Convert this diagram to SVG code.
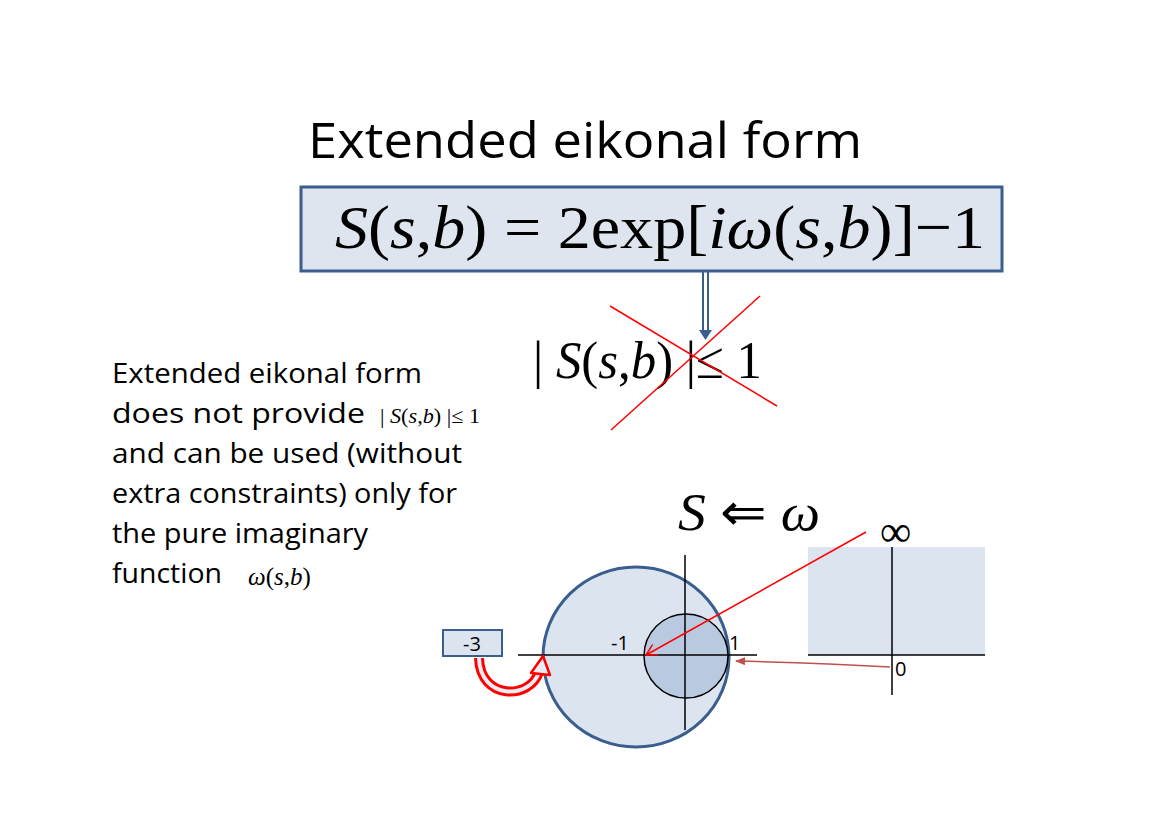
<svg xmlns="http://www.w3.org/2000/svg" width="1170" height="827" viewBox="0 0 1170 827">
<style>
.sans{font-family:"Open Sans","Liberation Sans",sans-serif;fill:#000}
.m{font-family:"Liberation Serif","Times New Roman",serif;fill:#000}
.ax{stroke:#000;stroke-width:1.5;fill:none}
.fill{fill:#dce4f0}
</style>
<defs>
<marker id="ar" markerWidth="12" markerHeight="12" refX="11" refY="6" orient="auto" markerUnits="userSpaceOnUse"><path d="M0,0 L11,6 L0,12" fill="none" stroke="red" stroke-width="1.5"/></marker>
<marker id="ar2" markerWidth="10" markerHeight="8" refX="9" refY="4" orient="auto" markerUnits="userSpaceOnUse"><path d="M0,0 L10,4 L0,8 Z" fill="#c0504d"/></marker>
</defs>
<rect width="1170" height="827" fill="#fff"/>
<text class="sans" x="308" y="158" font-size="50" textLength="554" lengthAdjust="spacingAndGlyphs">Extended eikonal form</text>
<g id="formula">
<rect x="301" y="187" width="701" height="84" fill="#dfe5ee" stroke="#3a5f8f" stroke-width="3"/>
<text class="m" x="335" y="248" font-size="62" textLength="650" lengthAdjust="spacingAndGlyphs"><tspan font-style="italic">S</tspan>(<tspan font-style="italic">s</tspan>,<tspan font-style="italic">b</tspan>) = 2exp[<tspan font-style="italic">iω</tspan>(<tspan font-style="italic">s</tspan>,<tspan font-style="italic">b</tspan>)]−1</text>
</g>
<g id="bound">
<text class="m" x="533" y="378" font-size="52" textLength="229" lengthAdjust="spacingAndGlyphs">| <tspan font-style="italic">S</tspan>(<tspan font-style="italic">s</tspan>,<tspan font-style="italic">b</tspan>) |≤ 1</text>
</g>
<g id="text">
<text class="sans" font-size="27" x="112" y="383" textLength="310" lengthAdjust="spacingAndGlyphs">Extended eikonal  form</text>
<text class="sans" font-size="27" x="112" y="423" textLength="253" lengthAdjust="spacingAndGlyphs">does not provide</text>
<text class="m" font-size="21" x="380" y="423" textLength="100" lengthAdjust="spacingAndGlyphs">| <tspan font-style="italic">S</tspan>(<tspan font-style="italic">s</tspan>,<tspan font-style="italic">b</tspan>) |≤ 1</text>
<text class="sans" font-size="27" x="112" y="463" textLength="350" lengthAdjust="spacingAndGlyphs">and can be used  (without</text>
<text class="sans" font-size="27" x="112" y="503" textLength="345" lengthAdjust="spacingAndGlyphs">extra constraints) only for</text>
<text class="sans" font-size="27" x="112" y="543" textLength="256" lengthAdjust="spacingAndGlyphs">the pure imaginary</text>
<text class="sans" font-size="27" x="112" y="583" textLength="110" lengthAdjust="spacingAndGlyphs">function</text>
<text class="m" font-size="25" x="248" y="585"><tspan font-style="italic">ω</tspan>(<tspan font-style="italic">s</tspan>,<tspan font-style="italic">b</tspan>)</text>
<text class="m" font-size="52" x="678" y="530" textLength="142" lengthAdjust="spacingAndGlyphs"><tspan font-style="italic">S</tspan> ⇐ <tspan font-style="italic">ω</tspan></text>
<text class="m" font-size="44" x="880" y="546">∞</text>
</g>
<g id="splane">
<ellipse cx="636" cy="657" rx="93" ry="90" class="fill" stroke="#3a5f8f" stroke-width="3"/>
<circle cx="686" cy="656" r="42" fill="#b9c9df" stroke="#000" stroke-width="1.5"/>
<line class="ax" x1="518" y1="655" x2="757" y2="655"/>
<line class="ax" x1="685" y1="555" x2="685" y2="730"/>
<text class="sans" font-size="20" x="611" y="650">-1</text>
<text class="sans" font-size="20" x="729" y="650">1</text>
</g>
<g id="minus3">
<rect x="443" y="630" width="59" height="26" class="fill" stroke="#3a5f8f" stroke-width="2"/>
<text class="sans" font-size="20" x="472" y="651" text-anchor="middle">-3</text>
</g>
<g id="wplane">
<rect x="808" y="547" width="177" height="108" class="fill"/>
<line class="ax" x1="808" y1="655" x2="985" y2="655"/>
<line class="ax" x1="892" y1="547" x2="892" y2="695"/>
<text class="sans" font-size="20" x="895" y="676">0</text>
</g>
<g id="connectors">
<line x1="703" y1="271" x2="703" y2="330" stroke="#3a5f8f" stroke-width="2"/>
<line x1="708" y1="271" x2="708" y2="330" stroke="#3a5f8f" stroke-width="2"/>
<path d="M699,330 L712,330 L705.5,340 Z" fill="#3a5f8f"/>
<line x1="611" y1="430" x2="760" y2="296" stroke="red" stroke-width="1.5"/>
<line x1="610" y1="306" x2="777" y2="406" stroke="red" stroke-width="1.5"/>
<line x1="866" y1="532" x2="646" y2="655" stroke="red" stroke-width="1.5" marker-end="url(#ar)"/>
<path d="M890,667 Q820,663 736,661" stroke="#c0504d" stroke-width="1.5" fill="none" marker-end="url(#ar2)"/>
<path d="M479,658 C480,700 530,700 539,672" stroke="red" stroke-width="10" fill="none"/>
<path d="M479,658 C480,700 530,700 539,672" stroke="#e8ecf3" stroke-width="4" fill="none"/>
<path d="M531,673 L543,656 L550,675 Z" fill="#e8ecf3" stroke="red" stroke-width="2.5" stroke-linejoin="round"/>
</g>
</svg>
